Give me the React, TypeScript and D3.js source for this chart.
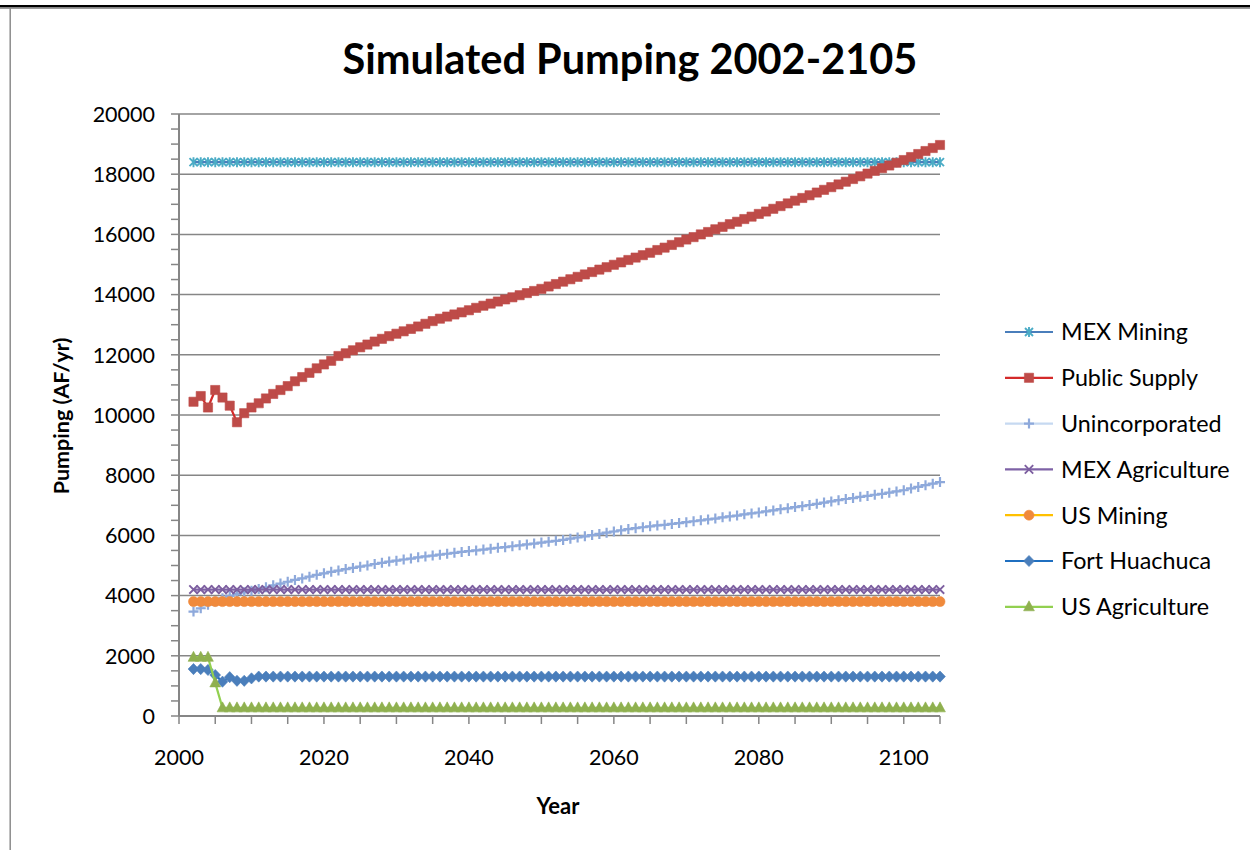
import React from "react";
import * as d3 from "d3";

// ---------- data ----------
const years: number[] = d3.range(2002, 2106);
const xTickValues = [2000, 2020, 2040, 2060, 2080, 2100];
const yTickValues = [0, 2000, 4000, 6000, 8000, 10000, 12000, 14000, 16000, 18000, 20000];

const mexMining = [
  18400, 18400, 18400, 18400, 18400, 18400, 18400, 18400, 18400, 18400,
  18400, 18400, 18400, 18400, 18400, 18400, 18400, 18400, 18400, 18400,
  18400, 18400, 18400, 18400, 18400, 18400, 18400, 18400, 18400, 18400,
  18400, 18400, 18400, 18400, 18400, 18400, 18400, 18400, 18400, 18400,
  18400, 18400, 18400, 18400, 18400, 18400, 18400, 18400, 18400, 18400,
  18400, 18400, 18400, 18400, 18400, 18400, 18400, 18400, 18400, 18400,
  18400, 18400, 18400, 18400, 18400, 18400, 18400, 18400, 18400, 18400,
  18400, 18400, 18400, 18400, 18400, 18400, 18400, 18400, 18400, 18400,
  18400, 18400, 18400, 18400, 18400, 18400, 18400, 18400, 18400, 18400,
  18400, 18400, 18400, 18400, 18400, 18400, 18400, 18400, 18400, 18400,
  18400, 18400, 18400, 18400,
];

const publicSupply = [
  10440, 10630, 10250, 10830, 10580, 10310, 9760, 10060, 10250, 10390,
  10550, 10700, 10830, 10960, 11120, 11260, 11400, 11550, 11680, 11800,
  11960, 12050, 12150, 12250, 12340, 12440, 12530, 12620, 12700, 12780,
  12860, 12940, 13030, 13120, 13200, 13270, 13340, 13410, 13480, 13560,
  13630, 13700, 13770, 13840, 13910, 13980, 14050, 14120, 14190, 14270,
  14350, 14430, 14510, 14590, 14670, 14750, 14830, 14910, 14990, 15070,
  15150, 15230, 15310, 15390, 15480, 15560, 15650, 15740, 15830, 15910,
  16000, 16080, 16170, 16250, 16340, 16420, 16510, 16590, 16680, 16760,
  16850, 16940, 17030, 17120, 17210, 17300, 17390, 17480, 17570, 17660,
  17750, 17840, 17930, 18020, 18110, 18200, 18290, 18380, 18470, 18570,
  18670, 18770, 18870, 18970,
];

const unincorporated = [
  3470, 3580, 3700, 3800, 3910, 3990, 4050, 4110, 4160, 4220,
  4280, 4340, 4400, 4460, 4520, 4570, 4630, 4690, 4740, 4790,
  4830, 4880, 4920, 4960, 5000, 5050, 5090, 5130, 5160, 5200,
  5230, 5270, 5300, 5330, 5360, 5390, 5420, 5450, 5480, 5500,
  5530, 5560, 5590, 5610, 5640, 5670, 5700, 5730, 5760, 5790,
  5820, 5850, 5890, 5930, 5970, 6010, 6050, 6090, 6130, 6170,
  6210, 6240, 6270, 6300, 6330, 6350, 6380, 6410, 6440, 6470,
  6500, 6530, 6560, 6600, 6630, 6660, 6700, 6730, 6760, 6800,
  6830, 6870, 6900, 6940, 6970, 7010, 7050, 7090, 7130, 7170,
  7210, 7240, 7280, 7310, 7350, 7380, 7420, 7460, 7500, 7560,
  7610, 7670, 7720, 7770,
];

const mexAgriculture = [
  4200, 4200, 4200, 4200, 4200, 4200, 4200, 4200, 4200, 4200,
  4200, 4200, 4200, 4200, 4200, 4200, 4200, 4200, 4200, 4200,
  4200, 4200, 4200, 4200, 4200, 4200, 4200, 4200, 4200, 4200,
  4200, 4200, 4200, 4200, 4200, 4200, 4200, 4200, 4200, 4200,
  4200, 4200, 4200, 4200, 4200, 4200, 4200, 4200, 4200, 4200,
  4200, 4200, 4200, 4200, 4200, 4200, 4200, 4200, 4200, 4200,
  4200, 4200, 4200, 4200, 4200, 4200, 4200, 4200, 4200, 4200,
  4200, 4200, 4200, 4200, 4200, 4200, 4200, 4200, 4200, 4200,
  4200, 4200, 4200, 4200, 4200, 4200, 4200, 4200, 4200, 4200,
  4200, 4200, 4200, 4200, 4200, 4200, 4200, 4200, 4200, 4200,
  4200, 4200, 4200, 4200,
];

const usMining = [
  3800, 3800, 3800, 3800, 3800, 3800, 3800, 3800, 3800, 3800,
  3800, 3800, 3800, 3800, 3800, 3800, 3800, 3800, 3800, 3800,
  3800, 3800, 3800, 3800, 3800, 3800, 3800, 3800, 3800, 3800,
  3800, 3800, 3800, 3800, 3800, 3800, 3800, 3800, 3800, 3800,
  3800, 3800, 3800, 3800, 3800, 3800, 3800, 3800, 3800, 3800,
  3800, 3800, 3800, 3800, 3800, 3800, 3800, 3800, 3800, 3800,
  3800, 3800, 3800, 3800, 3800, 3800, 3800, 3800, 3800, 3800,
  3800, 3800, 3800, 3800, 3800, 3800, 3800, 3800, 3800, 3800,
  3800, 3800, 3800, 3800, 3800, 3800, 3800, 3800, 3800, 3800,
  3800, 3800, 3800, 3800, 3800, 3800, 3800, 3800, 3800, 3800,
  3800, 3800, 3800, 3800,
];

const fortHuachuca = [
  1560, 1560, 1530, 1360, 1140, 1290, 1170, 1170, 1250, 1310,
  1310, 1310, 1310, 1310, 1310, 1310, 1310, 1310, 1310, 1310,
  1310, 1310, 1310, 1310, 1310, 1310, 1310, 1310, 1310, 1310,
  1310, 1310, 1310, 1310, 1310, 1310, 1310, 1310, 1310, 1310,
  1310, 1310, 1310, 1310, 1310, 1310, 1310, 1310, 1310, 1310,
  1310, 1310, 1310, 1310, 1310, 1310, 1310, 1310, 1310, 1310,
  1310, 1310, 1310, 1310, 1310, 1310, 1310, 1310, 1310, 1310,
  1310, 1310, 1310, 1310, 1310, 1310, 1310, 1310, 1310, 1310,
  1310, 1310, 1310, 1310, 1310, 1310, 1310, 1310, 1310, 1310,
  1310, 1310, 1310, 1310, 1310, 1310, 1310, 1310, 1310, 1310,
  1310, 1310, 1310, 1310,
];

const usAgriculture = [
  1950, 1950, 1950, 1100, 270, 270, 270, 270, 270, 270,
  270, 270, 270, 270, 270, 270, 270, 270, 270, 270,
  270, 270, 270, 270, 270, 270, 270, 270, 270, 270,
  270, 270, 270, 270, 270, 270, 270, 270, 270, 270,
  270, 270, 270, 270, 270, 270, 270, 270, 270, 270,
  270, 270, 270, 270, 270, 270, 270, 270, 270, 270,
  270, 270, 270, 270, 270, 270, 270, 270, 270, 270,
  270, 270, 270, 270, 270, 270, 270, 270, 270, 270,
  270, 270, 270, 270, 270, 270, 270, 270, 270, 270,
  270, 270, 270, 270, 270, 270, 270, 270, 270, 270,
  270, 270, 270, 270,
];

type MarkerType = "star" | "square" | "plus" | "x" | "circle" | "diamond" | "triangle";

interface Series {
  name: string;
  values: number[];
  line: string;
  marker: string;
  type: MarkerType;
}

const series: Series[] = [
  { name: "MEX Mining", values: mexMining, line: "#4A7EBB", marker: "#4BACC6", type: "star" },
  { name: "Public Supply", values: publicSupply, line: "#D42A2A", marker: "#BE4B48", type: "square" },
  { name: "Unincorporated", values: unincorporated, line: "#C6D9F1", marker: "#8EA9DB", type: "plus" },
  { name: "MEX Agriculture", values: mexAgriculture, line: "#7E62A6", marker: "#7D5FA0", type: "x" },
  { name: "US Mining", values: usMining, line: "#FFC000", marker: "#F08A3C", type: "circle" },
  { name: "Fort Huachuca", values: fortHuachuca, line: "#1F6FC0", marker: "#4A7EBB", type: "diamond" },
  { name: "US Agriculture", values: usAgriculture, line: "#92D050", marker: "#8FB04F", type: "triangle" },
];

// ---------- layout ----------
const W = 1250;
const H = 850;
const plotLeft = 179;
const plotRight = 940;
const plotTop = 114;
const plotBottom = 716;
const FONT = "Lato, 'Open Sans', sans-serif";
const AXIS_GRAY = "#868686";

const x = d3.scaleLinear().domain([2000, 2105]).range([plotLeft, plotRight]);
const y = d3.scaleLinear().domain([0, 20000]).range([plotBottom, plotTop]);

function markerPath(type: MarkerType, cx: number, cy: number): string {
  switch (type) {
    case "star":
      return `M${cx - 4},${cy - 4}L${cx + 4},${cy + 4}M${cx - 4},${cy + 4}L${cx + 4},${cy - 4}M${cx},${cy - 5}L${cx},${cy + 5}`;
    case "square":
      return `M${cx - 4.6},${cy - 4.6}h9.2v9.2h-9.2Z`;
    case "plus":
      return `M${cx - 5},${cy}H${cx + 5}M${cx},${cy - 5}V${cy + 5}`;
    case "x":
      return `M${cx - 4.2},${cy - 4.2}L${cx + 4.2},${cy + 4.2}M${cx - 4.2},${cy + 4.2}L${cx + 4.2},${cy - 4.2}`;
    case "circle":
      return `M${cx + 5},${cy}A5,5 0 1,1 ${cx - 5},${cy}A5,5 0 1,1 ${cx + 5},${cy}Z`;
    case "diamond":
      return `M${cx},${cy - 5.6}L${cx + 5.4},${cy}L${cx},${cy + 5.6}L${cx - 5.4},${cy}Z`;
    case "triangle":
      return `M${cx},${cy - 6}L${cx + 5.4},${cy + 4}L${cx - 5.4},${cy + 4}Z`;
  }
}

const strokedMarkers: MarkerType[] = ["star", "plus", "x"];

function MarkerShape({ s, cx, cy }: { s: Series; cx: number; cy: number }) {
  const d = markerPath(s.type, cx, cy);
  if (strokedMarkers.includes(s.type)) {
    return <path d={d} stroke={s.marker} strokeWidth={s.type === "plus" ? 2.2 : 1.9} fill="none" />;
  }
  return <path d={d} fill={s.marker} stroke={s.marker} strokeWidth={0.6} />;
}

const lineGen = d3
  .line<number>()
  .x((_, i) => x(years[i]))
  .y((d) => y(d));

export default function App() {
  const minorY = d3.range(0, 20001, 500);
  const minorX = d3.range(2000, 2106, 5);
  const legendX = 1005;
  const legendTop = 332;
  const legendStep = 45.8;

  return (
    <svg
      width={W}
      height={H}
      viewBox={`0 0 ${W} ${H}`}
      style={{ position: "absolute", left: 0, top: 0, background: "#fff" }}
      fontFamily={FONT}
    >
      <rect x={0} y={0} width={W} height={H} fill="#fff" />
      {/* frame */}
      <line x1={0} x2={W} y1={6.2} y2={6.2} stroke="#000" strokeWidth={2.6} />
      <line x1={0} x2={W} y1={8.3} y2={8.3} stroke="#9a9a9a" strokeWidth={1.2} />
      <line x1={10.2} x2={10.2} y1={8} y2={H} stroke="#8c8c8c" strokeWidth={1.5} />

      {/* title */}
      <text x={630} y={74} textAnchor="middle" fontSize={41.5} fontWeight={700} fill="#000">
        Simulated Pumping 2002-2105
      </text>

      {/* gridlines */}
      {yTickValues.map((v) => (
        <line key={"g" + v} x1={plotLeft} x2={plotRight} y1={y(v)} y2={y(v)} stroke={AXIS_GRAY} strokeWidth={1.5} />
      ))}

      {/* y axis */}
      <line x1={plotLeft} x2={plotLeft} y1={plotTop} y2={plotBottom} stroke={AXIS_GRAY} strokeWidth={2} />
      {minorY.map((v) => (
        <line key={"ym" + v} x1={plotLeft - 8} x2={plotLeft} y1={y(v)} y2={y(v)} stroke={AXIS_GRAY} strokeWidth={1.5} />
      ))}
      {yTickValues.map((v) => (
        <text key={"yl" + v} x={155} y={y(v)} dy="0.36em" textAnchor="end" fontSize={21.5} fill="#000">
          {v}
        </text>
      ))}

      {/* x axis */}
      <line x1={plotLeft} x2={plotRight} y1={plotBottom} y2={plotBottom} stroke={AXIS_GRAY} strokeWidth={2} />
      {minorX.map((v) => (
        <line key={"xm" + v} x1={x(v)} x2={x(v)} y1={plotBottom} y2={plotBottom + 8} stroke={AXIS_GRAY} strokeWidth={1.5} />
      ))}
      {xTickValues.map((v) => (
        <text key={"xl" + v} x={x(v)} y={765} textAnchor="middle" fontSize={21.5} fill="#000">
          {v}
        </text>
      ))}

      {/* axis titles */}
      <text x={558} y={814} textAnchor="middle" fontSize={22} fontWeight={700} fill="#000">
        Year
      </text>
      <text
        transform={`translate(69,416) rotate(-90)`}
        textAnchor="middle"
        fontSize={21.5}
        fontWeight={700}
        fill="#000"
      >
        Pumping (AF/yr)
      </text>

      {/* series */}
      {series.map((s) => (
        <g key={s.name}>
          <path d={lineGen(s.values) || ""} fill="none" stroke={s.line} strokeWidth={2.2} strokeLinejoin="round" />
          {s.values.map((v, i) => (
            <MarkerShape key={i} s={s} cx={x(years[i])} cy={y(v)} />
          ))}
        </g>
      ))}

      {/* legend */}
      {series.map((s, i) => {
        const ly = legendTop + i * legendStep;
        return (
          <g key={"leg" + s.name}>
            <line x1={legendX} x2={legendX + 48} y1={ly} y2={ly} stroke={s.line} strokeWidth={2.2} />
            <MarkerShape s={s} cx={legendX + 24} cy={ly} />
            <text x={1061} y={ly} dy="0.36em" fontSize={23.3} fill="#000">
              {s.name}
            </text>
          </g>
        );
      })}
    </svg>
  );
}
